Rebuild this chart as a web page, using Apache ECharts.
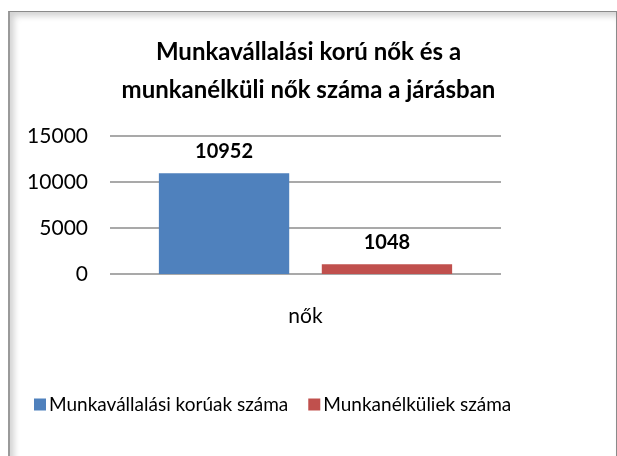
<!DOCTYPE html>
<html><head><meta charset="utf-8">
<script src="https://cdn.jsdelivr.net/npm/echarts@6/dist/echarts.min.js"></script>
<style>
html,body{margin:0;padding:0;background:#fff;}
#frame{position:absolute;left:8px;top:11px;width:606px;height:448px;border:1px solid #8a8a8a;border-left:2px solid #9a9a9a;box-shadow:inset 4px 4px 6px rgba(0,0,0,0.18);}
#c{position:absolute;left:0;top:0;width:617px;height:456px;}
</style></head>
<body>
<div id="frame"></div>
<div id="c"></div>
<script>
const title = 'Munkavállalási korú nők és a\nmunkanélküli nők száma a járásban';
const categories = ['nők'];
const seriesNames = ['Munkavállalási korúak száma', 'Munkanélküliek száma'];
const workingAge = [10952];
const unemployed = [1048];
const colors = ['#4F81BD', '#C0504D'];
const FONT = 'Lato';

const chart = echarts.init(document.getElementById('c'));
const lbl = {show:true, position:'top', distance:12, fontFamily:FONT, fontWeight:'bold', fontSize:20, color:'#000'};
chart.setOption({
  animation:false,
  title:{text:title, left:'center', top:28, textStyle:{fontFamily:FONT, fontWeight:'bold', fontSize:24, lineHeight:38, color:'#000'}},
  grid:{left:110, right:116, top:136, bottom:182},
  legend:{top:390, left:29, itemWidth:12, itemHeight:12, itemGap:20, icon:'rect',
    textStyle:{fontFamily:FONT, fontSize:19, color:'#000', padding:[0,0,0,-2]}, data:seriesNames},
  xAxis:{type:'category', data:categories, axisLine:{show:false}, axisTick:{show:false},
    axisLabel:{fontFamily:FONT, fontSize:21, color:'#000', margin:32}},
  yAxis:{type:'value', min:0, max:15000, interval:5000, axisLine:{show:false}, axisTick:{show:false},
    splitLine:{lineStyle:{color:'#8c8c8c', width:1.5}},
    axisLabel:{fontFamily:FONT, fontSize:21, color:'#000', margin:22, formatter:v => String(v)}},
  series:[
    {name:seriesNames[0], type:'bar', data:workingAge, itemStyle:{color:colors[0]}, barGap:'25%', barCategoryGap:'25%', label:lbl},
    {name:seriesNames[1], type:'bar', data:unemployed, itemStyle:{color:colors[1]}, barGap:'25%', barCategoryGap:'25%', label:lbl}
  ]
});
</script>
</body></html>
